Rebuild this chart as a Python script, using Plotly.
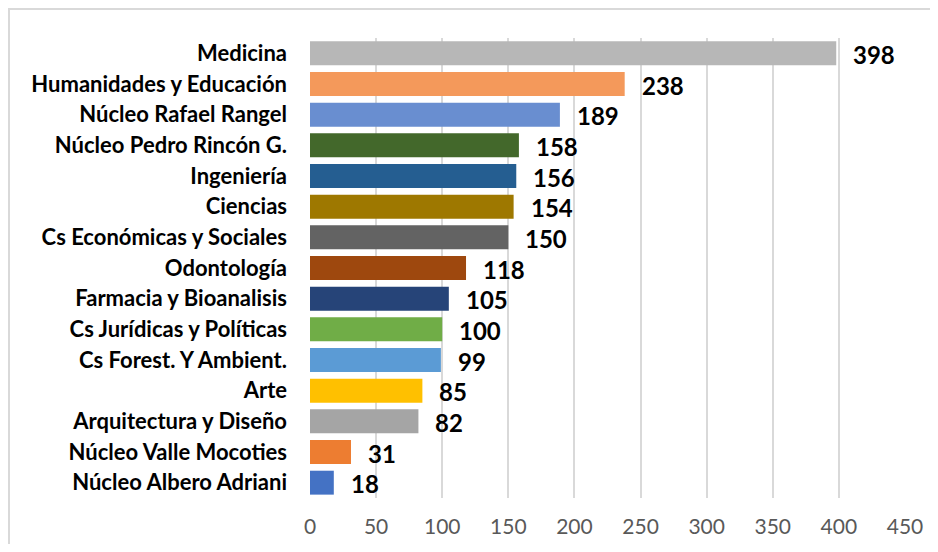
import plotly.graph_objects as go

categories = ["Medicina", "Humanidades y Educación", "Núcleo Rafael Rangel",
              "Núcleo Pedro Rincón G.", "Ingeniería", "Ciencias",
              "Cs Económicas y Sociales", "Odontología", "Farmacia y Bioanalisis",
              "Cs Jurídicas y Políticas", "Cs Forest. Y Ambient.", "Arte",
              "Arquitectura y Diseño", "Núcleo Valle Mocoties", "Núcleo Albero Adriani"]
values = [398, 238, 189, 158, 156, 154, 150, 118, 105, 100, 99, 85, 82, 31, 18]
colors = ["#B7B7B7", "#F4995B", "#698ED0", "#43682B", "#255E91", "#9E7800",
          "#636363", "#9E480E", "#264478", "#70AD47", "#5B9BD5", "#FFC000",
          "#A5A5A5", "#ED7D31", "#4472C4"]
xticks = [0, 50, 100, 150, 200, 250, 300, 350, 400, 450]

FONT = "Lato"
# page body has an 8px margin; figure is sized/offset to compensate
W, H = 922, 536
L, T = 302, 30
R = W - 897
B = H - 490

fig = go.Figure(go.Bar(
    x=values, y=categories, orientation="h",
    marker=dict(color=colors, line=dict(width=0)),
    width=0.78,
    hoverinfo="x+y",
))

for c, v in zip(categories, values):
    fig.add_annotation(x=v, y=c, text=f"<b>{v}</b>", showarrow=False,
                       xanchor="left", yanchor="middle", xshift=15, yshift=-1,
                       font=dict(family=FONT, size=24, color="#000000"))

pw = W - L - R
ph = H - T - B
fig.update_layout(
    width=W, height=H,
    margin=dict(l=L, r=R, t=T, b=B, autoexpand=False),
    paper_bgcolor="white", plot_bgcolor="white",
    showlegend=False,
    xaxis=dict(range=[0, 450], tickvals=xticks, showgrid=True, automargin=False,
               gridcolor="#D9D9D9", gridwidth=1.5, zeroline=False,
               showline=False, ticks="", ticklabelstandoff=14,
               tickfont=dict(family=FONT, size=21, color="#595959")),
    yaxis=dict(categoryorder="array", categoryarray=categories[::-1],
               showgrid=False, showline=False, ticks="", ticklabelstandoff=22,
               automargin=False,
               tickfont=dict(family=FONT, size=22, color="#000000"),
               range=[-0.5, 14.5]),
    shapes=[dict(type="rect", xref="paper", yref="paper",
                 x0=(1 - L) / pw, x1=1.2, y0=-0.3, y1=(ph + T - 1) / ph,
                 line=dict(color="#D9D9D9", width=2), layer="below")],
)

fig.update_yaxes(tickprefix="<b>", ticksuffix="</b>")

fig.write_html("out.html")
